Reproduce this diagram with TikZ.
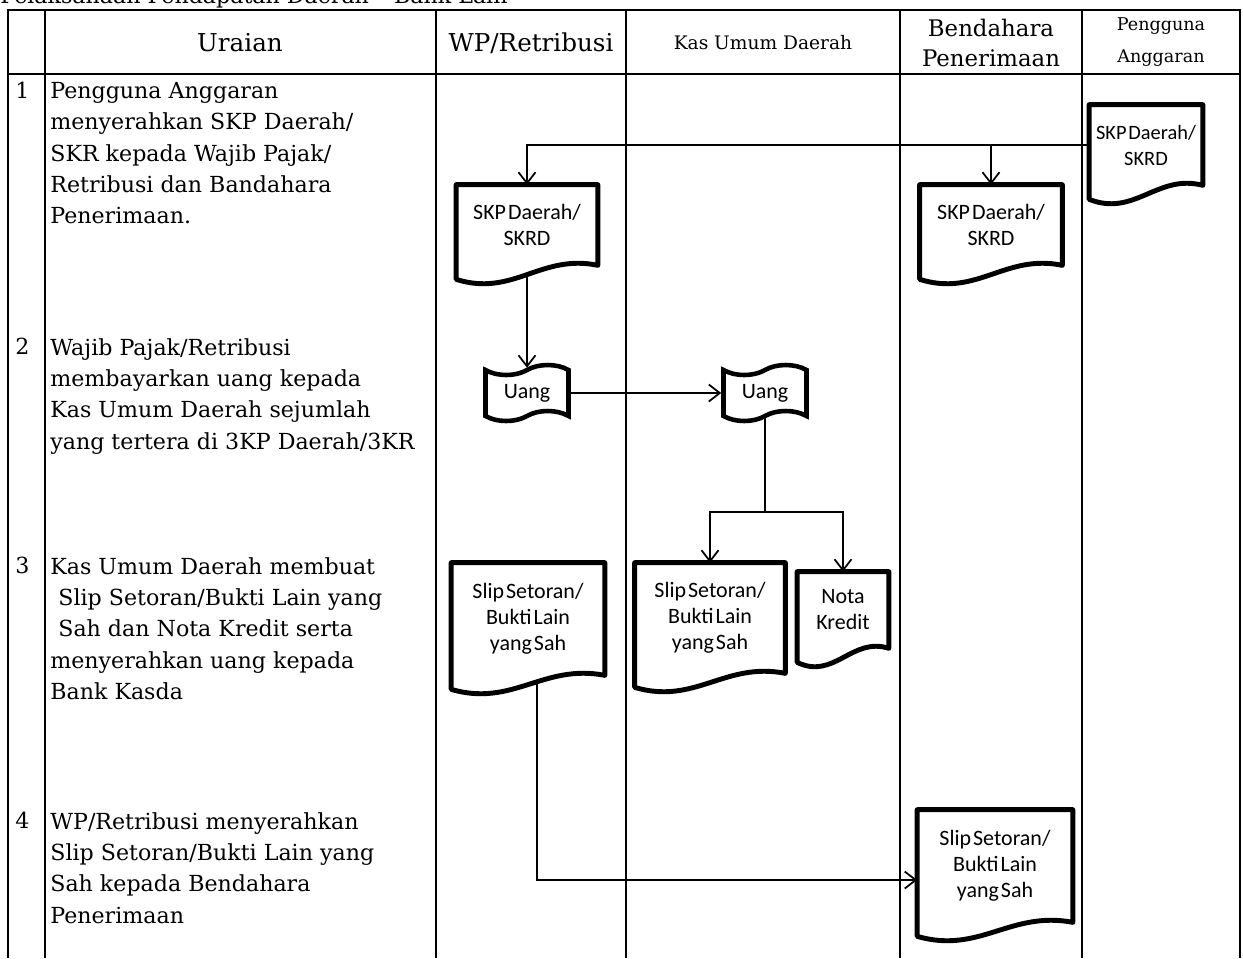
\documentclass[tikz,border=0pt]{standalone}
\usepackage{fontspec}
\setmainfont{DejaVu Serif}
\newfontfamily\docfont{Carlito}[WordSpace=0.4]
\usetikzlibrary{calc,shapes.symbols,arrows.meta}

\newcommand{\docedge}[1]{%
  \draw[docline] (#1.south east) -- (#1.north east) -- (#1.north west)
    -- ($(#1.south west)+(0,14)$)
    .. controls ($(#1.south west)!0.4!(#1.south east)+(0,32)$)
    and ($(#1.south west)!0.6!(#1.south east)+(0,-12)$) .. (#1.south east) -- cycle;}

\begin{document}
\begin{tikzpicture}[x=0.02cm, y=-0.02cm,
  tabel/.style={line width=1.1pt},
  rowtext/.style={anchor=north west, align=left, inner sep=0pt, font=\fontsize{12.6}{17.8}\selectfont},
  headtext/.style={align=center, inner sep=0pt, font=\fontsize{14}{17}\selectfont},
  docnode/.style={align=center, inner sep=0pt, font=\docfont\fontsize{12.5}{14.8}\selectfont},
  docline/.style={line width=2.8pt, line join=round},
  tapenode/.style={tape, draw, line width=2.6pt, tape bend top=in and out, tape bend bottom=in and out,
    tape bend height=0.2cm, inner sep=0pt, minimum width=1.66cm, minimum height=1.12cm,
    font=\docfont\fontsize{12.5}{14.8}\selectfont},
  flow/.style={line width=1pt, -{Straight Barb[length=0.22cm,width=0.34cm]}}]
\useasboundingbox (0,0) rectangle (1243,958);
\clip (0,0) rectangle (1243,958);

% table
\draw[tabel] (8,958) -- (8,10) -- (1240,10) -- (1240,958);
\draw[tabel] (8,74) -- (1240,74);
\draw[tabel] (45,10) -- (45,958);
\draw[tabel] (436,10) -- (436,958);
\draw[tabel] (626,10) -- (626,958);
\draw[tabel] (900,10) -- (900,958);
\draw[tabel] (1082,10) -- (1082,958);

\node[rowtext, anchor=base west] (judul) at (0,3) {Pelaksanaan Pendapatan Daerah – Bank Lain};

% header
\node[headtext] (hUraian) at (240,43) {Uraian};
\node[headtext] (hWP) at (531,43) {WP/Retribusi};
\node[headtext, font=\fontsize{10.6}{13}\selectfont] (hKas) at (763,43) {Kas Umum Daerah};
\node[headtext, font=\fontsize{13}{17}\selectfont] (hBendahara) at (991,43) {Bendahara\\Penerimaan};
\node[headtext, font=\fontsize{10}{18.2}\selectfont] (hPengguna) at (1161,42) {Pengguna\\Anggaran};

% uraian
\node[rowtext] (n1) at (15,82) {1};
\node[rowtext] (n2) at (15,338) {2};
\node[rowtext] (n3) at (15,557) {3};
\node[rowtext] (n4) at (15,812) {4};
\node[rowtext] (r1) at (50,82) {Pengguna Anggaran\\menyerahkan SKP Daerah/\\SKR kepada Wajib Pajak/\\Retribusi dan Bandahara\\Penerimaan.};
\node[rowtext] (r2) at (50,338) {Wajib Pajak/Retribusi\\membayarkan uang kepada\\Kas Umum Daerah sejumlah\\yang tertera di 3KP Daerah/3KR};
\node[rowtext] (r3) at (50,557) {Kas Umum Daerah membuat\\\hspace*{0.16cm}Slip Setoran/Bukti Lain yang\\\hspace*{0.16cm}Sah dan Nota Kredit serta\\menyerahkan uang kepada\\Bank Kasda};
\node[rowtext] (r4) at (50,812) {WP/Retribusi menyerahkan\\Slip Setoran/Bukti Lain yang\\Sah kepada Bendahara\\Penerimaan};

% dokumen
\node[docnode, font=\docfont\fontsize{11.6}{14.8}\selectfont, minimum width=2.26cm, minimum height=1.6cm] (skpPA) at (1146,145) {SKP Daerah/\\SKRD};
\node[docnode, minimum width=2.82cm, minimum height=1.6cm] (skpWP) at (527,225) {SKP Daerah/\\SKRD};
\node[docnode, minimum width=2.84cm, minimum height=1.6cm] (skpBP) at (991,225) {SKP Daerah/\\SKRD};
\node[tapenode] (uangWP) at (527,393) {Uang};
\node[tapenode] (uangKas) at (765,393) {Uang};
\node[docnode, minimum width=3.06cm, minimum height=2.24cm] (slipWP) at (528,619) {Slip Setoran/\\Bukti Lain\\yang Sah};
\node[docnode, minimum width=3cm, minimum height=2.2cm] (slipKas) at (710,618) {Slip Setoran/\\Bukti Lain\\yang Sah};
\node[docnode, minimum width=1.82cm, minimum height=1.52cm] (nota) at (843,610) {Nota\\Kredit};
\node[docnode, minimum width=3.1cm, minimum height=2.24cm] (slipBP) at (995,866) {Slip Setoran/\\Bukti Lain\\yang Sah};
\docedge{skpPA}
\docedge{skpWP}
\docedge{skpBP}
\docedge{slipWP}
\docedge{slipKas}
\docedge{nota}
\docedge{slipBP}

% alur
\coordinate (split) at (765,512);
\draw[flow] (skpPA.west) -| (skpWP.north);
\draw[flow] (skpPA.west) -| (skpBP.north);
\draw[flow] ($(skpWP.south)+(0,9)$) -- (uangWP.north);
\draw[flow] (uangWP.east) -- (uangKas.west);
\draw[line width=1pt] (uangKas.south) -- (split);
\draw[flow] (split) -| (slipKas.north);
\draw[flow] (split) -| (nota.north);
\draw[flow] ($(slipWP.south)+(9,8)$) |- ($(slipBP.west)+(0,14)$);
\end{tikzpicture}
\end{document}
